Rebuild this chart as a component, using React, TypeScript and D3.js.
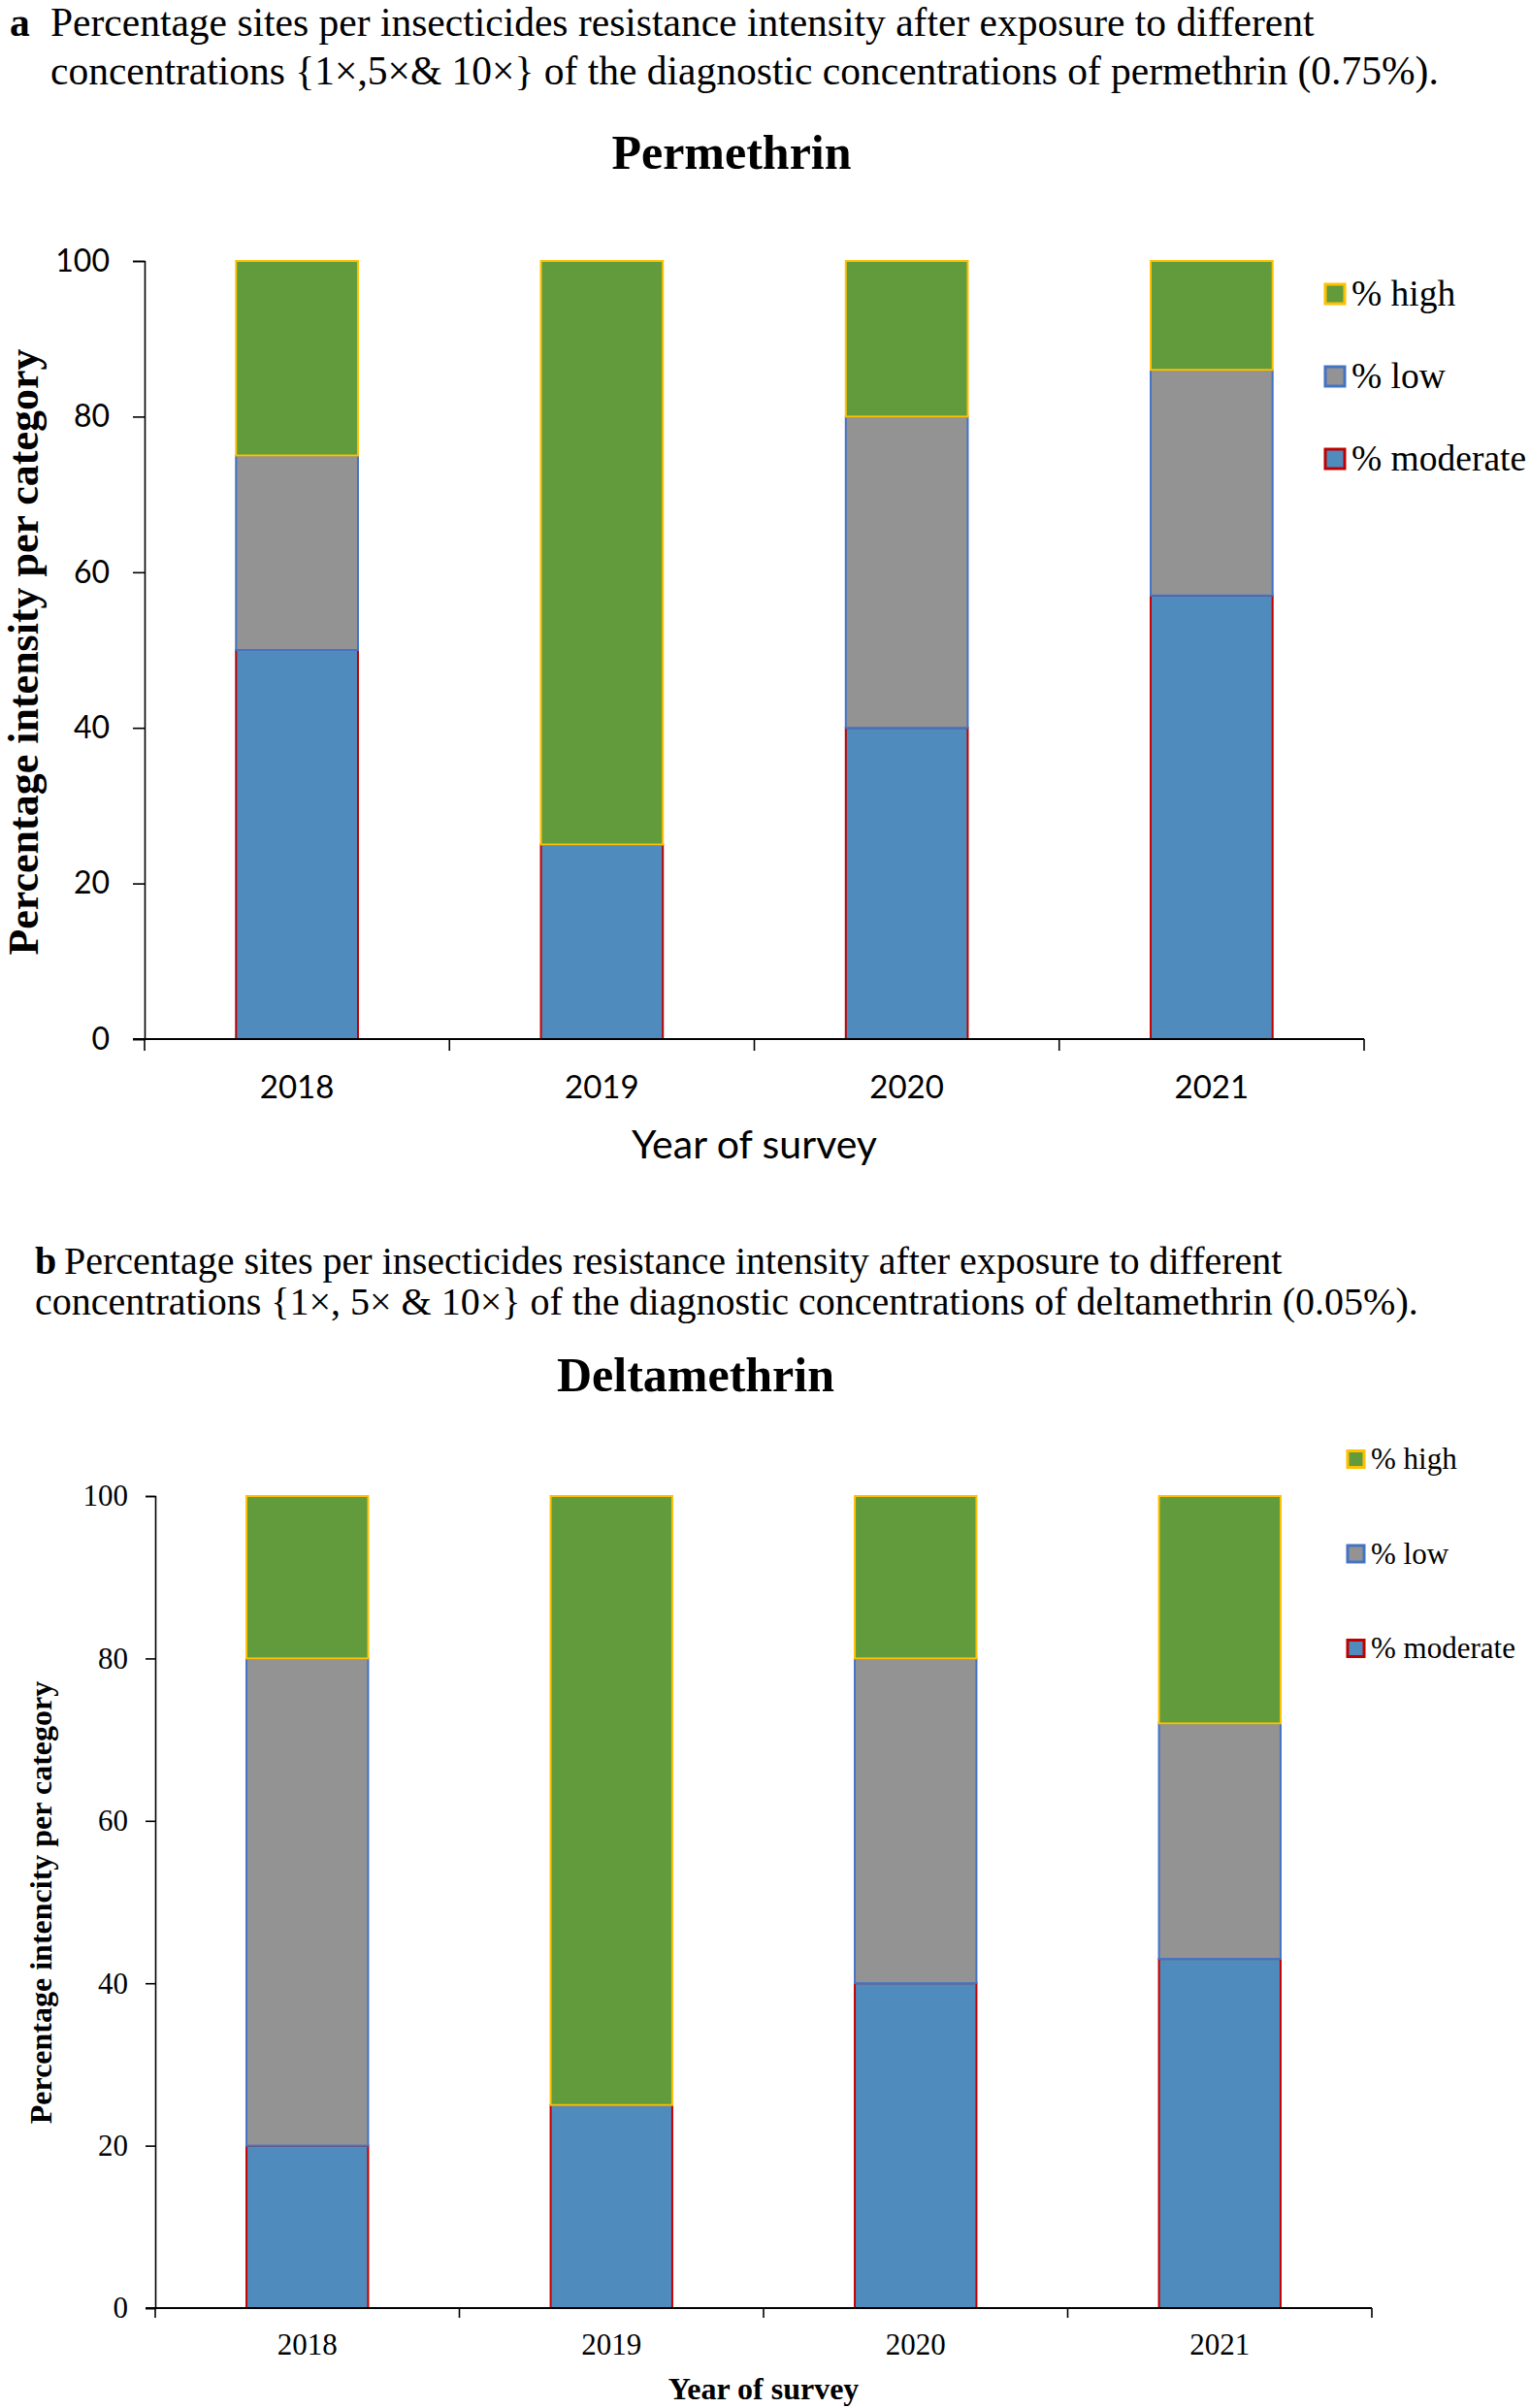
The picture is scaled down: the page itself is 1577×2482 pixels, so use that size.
import * as d3 from 'd3';
import React, { useEffect, useRef } from 'react';

const years = ['2018', '2019', '2020', '2021'];
const seriesKeys = ['moderate', 'low', 'high'];
const legendLabels = ['% high', '% low', '% moderate'];
const yTicks = [0, 20, 40, 60, 80, 100];

// permethrin (panel a)
const permModerate = [50, 25, 40, 57];
const permLow = [25, 0, 40, 29];
const permHigh = [25, 75, 20, 14];

// deltamethrin (panel b)
const deltModerate = [20, 25, 40, 43];
const deltLow = [60, 0, 40, 29];
const deltHigh = [20, 75, 20, 28];

const fills = { moderate: '#4f8bbd', low: '#939393', high: '#629b3b' };
const strokes = { moderate: '#c00000', low: '#4472c4', high: '#ffc000' };

const serif = '"Liberation Serif", "Times New Roman", serif';
const sans = 'Lato, "Open Sans", sans-serif';

const toRows = (mod, low, high) =>
    years.map((year, i) => ({ year, moderate: mod[i], low: low[i], high: high[i] }));

function drawPanel(svg, p) {
    const g = svg.append('g');
    const rows = toRows(p.moderate, p.low, p.high);

    const x = d3.scaleBand()
        .domain(years)
        .range([p.x0, p.x1])
        .paddingInner(0.6)
        .paddingOuter(0.3);
    const y = d3.scaleLinear().domain([0, 100]).range([p.yBottom, p.yTop]);

    const stacked = d3.stack().keys(seriesKeys)(rows);

    stacked.forEach(layer => {
        layer.forEach(d => {
            const h = y(d[0]) - y(d[1]);
            if (h <= 0) return;
            g.append('rect')
                .attr('x', x(d.data.year))
                .attr('y', y(d[1]))
                .attr('width', x.bandwidth())
                .attr('height', h)
                .attr('fill', fills[layer.key])
                .attr('stroke', strokes[layer.key])
                .attr('stroke-width', 2);
        });
    });

    // y axis
    const yAxis = g.append('g')
        .attr('transform', `translate(${p.x0},0)`)
        .call(d3.axisLeft(y).tickValues(yTicks).tickSize(p.tickLen).tickPadding(p.yPad));
    yAxis.select('.domain').attr('stroke', '#000').attr('stroke-width', 1.6);
    yAxis.selectAll('.tick line').attr('stroke', '#000').attr('stroke-width', 1.6);
    yAxis.selectAll('.tick text')
        .attr('font-family', p.tickFont)
        .attr('font-size', p.yTickSize)
        .attr('fill', '#000');

    // x axis: line plus ticks on category boundaries
    const step = x.step();
    g.append('line')
        .attr('x1', p.x0 - p.tickLen).attr('x2', p.x1)
        .attr('y1', p.yBottom).attr('y2', p.yBottom)
        .attr('stroke', '#000').attr('stroke-width', 2);
    d3.range(years.length + 1).forEach(i => {
        g.append('line')
            .attr('x1', p.x0 + i * step).attr('x2', p.x0 + i * step)
            .attr('y1', p.yBottom).attr('y2', p.yBottom + p.tickLen)
            .attr('stroke', '#000').attr('stroke-width', 1.6);
    });
    years.forEach(yr => {
        g.append('text')
            .attr('x', x(yr) + x.bandwidth() / 2)
            .attr('y', p.xLabelY)
            .attr('text-anchor', 'middle')
            .attr('font-family', p.tickFont)
            .attr('font-size', p.xTickSize)
            .text(yr);
    });

    // axis titles
    g.append('text')
        .attr('x', (p.x0 + p.x1) / 2)
        .attr('y', p.xTitleY)
        .attr('text-anchor', 'middle')
        .attr('font-family', p.xTitleFont)
        .attr('font-weight', p.xTitleWeight)
        .attr('font-size', p.xTitleSize)
        .text('Year of survey');
    g.append('text')
        .attr('transform', `translate(${p.yTitleX},${p.yTitleY}) rotate(-90)`)
        .attr('text-anchor', 'middle')
        .attr('font-family', serif)
        .attr('font-weight', 'bold')
        .attr('font-size', p.yTitleSize)
        .text(p.yTitle);

    // chart title
    g.append('text')
        .attr('x', p.titleX)
        .attr('y', p.titleY)
        .attr('text-anchor', 'middle')
        .attr('font-family', serif)
        .attr('font-weight', 'bold')
        .attr('font-size', 50)
        .text(p.title);

    // legend
    const legendKeys = ['high', 'low', 'moderate'];
    legendKeys.forEach((k, i) => {
        const cy = p.legY + i * p.legGap;
        g.append('rect')
            .attr('x', p.legX)
            .attr('y', cy - p.legBox / 2)
            .attr('width', p.legBox)
            .attr('height', p.legBox)
            .attr('fill', fills[k])
            .attr('stroke', strokes[k])
            .attr('stroke-width', 3);
        g.append('text')
            .attr('x', p.legX + p.legBox + 7)
            .attr('y', cy + p.legSize * 0.33)
            .attr('font-family', serif)
            .attr('font-size', p.legSize)
            .text(legendLabels[i]);
    });

    // caption
    const cap = g.append('text')
        .attr('font-family', serif)
        .attr('font-size', p.capSize);
    cap.append('tspan').attr('x', p.capLetterX).attr('y', p.capY1)
        .attr('font-weight', 'bold').text(p.capLetter);
    cap.append('tspan').attr('x', p.capX1).attr('y', p.capY1).text(p.capLine1);
    cap.append('tspan').attr('x', p.capX2).attr('y', p.capY2).text(p.capLine2);
}

export default function App() {
    const ref = useRef(null);

    useEffect(() => {
        const svg = d3.select(ref.current);
        svg.selectAll('*').remove();

        drawPanel(svg, {
            moderate: permModerate, low: permLow, high: permHigh,
            x0: 149, x1: 1406, yTop: 269, yBottom: 1071,
            tickLen: 12, yPad: 24, tickFont: sans, yTickSize: 32, xTickSize: 33,
            xLabelY: 1132, xTitleY: 1194, xTitleFont: sans, xTitleWeight: 'normal', xTitleSize: 41,
            yTitleX: 39, yTitleY: 672, yTitleSize: 44, yTitle: 'Percentage intensity per category',
            title: 'Permethrin', titleX: 754, titleY: 174,
            legX: 1366, legY: 303, legGap: 85, legBox: 20, legSize: 37.5,
            capSize: 41.5, capLetter: 'a', capLetterX: 10, capX1: 52, capX2: 52, capY1: 37, capY2: 87,
            capLine1: 'Percentage sites per insecticides resistance intensity after exposure to different',
            capLine2: 'concentrations {1×,5×& 10×} of the diagnostic concentrations of permethrin (0.75%).',
        });

        drawPanel(svg, {
            moderate: deltModerate, low: deltLow, high: deltHigh,
            x0: 160, x1: 1414, yTop: 1542, yBottom: 2379,
            tickLen: 10, yPad: 18, tickFont: serif, yTickSize: 31, xTickSize: 31,
            xLabelY: 2427, xTitleY: 2473, xTitleFont: serif, xTitleWeight: 'bold', xTitleSize: 32,
            yTitleX: 53, yTitleY: 1961, yTitleSize: 32, yTitle: 'Percentage intencity per category',
            title: 'Deltamethrin', titleX: 717, titleY: 1434,
            legX: 1389, legY: 1504, legGap: 97.5, legBox: 17, legSize: 31,
            capSize: 40, capLetter: 'b', capLetterX: 36, capX1: 66, capX2: 36, capY1: 1313, capY2: 1355,
            capLine1: 'Percentage sites per insecticides resistance intensity after exposure to different',
            capLine2: 'concentrations {1×, 5× & 10×} of the diagnostic concentrations of deltamethrin (0.05%).',
        });
    }, []);

    return (
        <svg
            ref={ref}
            width={1577}
            height={2482}
            style={{ position: 'absolute', left: 0, top: 0, display: 'block', background: '#fff' }}
        />
    );
}
